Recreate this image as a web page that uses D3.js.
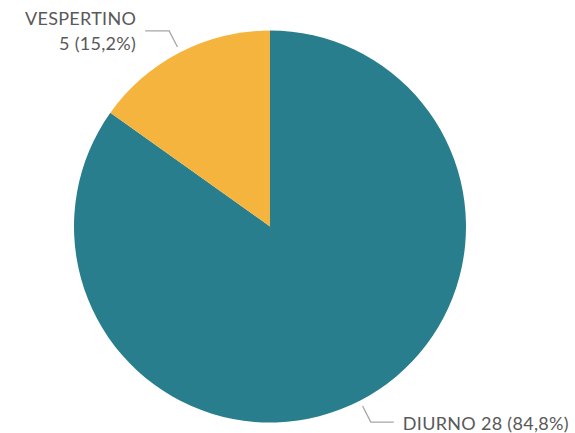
<!DOCTYPE html>
<html>
<head>
<meta charset="utf-8">
<script src="https://cdn.jsdelivr.net/npm/d3@7"></script>
<style>
  body { margin: 0; background: #fff; }
  text { font-family: Lato, "Open Sans", sans-serif; fill: #595959; letter-spacing: 0.3px; }
</style>
</head>
<body>
<script>
// Data
const categories = ['DIURNO', 'VESPERTINO'];
const values = [28, 5];
const percentLabels = ['84,8%', '15,2%'];
const colors = ['#297E8E', '#F4B43D'];

const width = 575;
const height = 433;
const cx = 270;
const cy = 226.5;
const radius = 196;

const svg = d3.select('body')
  .append('svg')
  .attr('width', width)
  .attr('height', height);

const pie = d3.pie().sort(null).value((d) => d.value);
const arcs = pie(categories.map((c, i) => ({ name: c, value: values[i], pct: percentLabels[i], color: colors[i] })));

const arc = d3.arc().innerRadius(0).outerRadius(radius);

const g = svg.append('g').attr('transform', `translate(${cx},${cy})`);

g.selectAll('path')
  .data(arcs)
  .join('path')
  .attr('d', arc)
  .attr('fill', (d) => d.data.color);

// Leader lines and labels
const pointAt = (a, r) => [Math.sin(a) * r, -Math.cos(a) * r];

arcs.forEach((d) => {
  const mid = (d.startAngle + d.endAngle) / 2;
  const p1 = pointAt(mid, 202);
  const p2 = pointAt(mid, 220);
  const right = p2[0] > 0;
  const p3 = [p2[0] + (right ? 23 : -24), p2[1]];

  g.append('polyline')
    .attr('points', [p1, p2, p3].map((p) => p.join(',')).join(' '))
    .attr('fill', 'none')
    .attr('stroke', '#A6A6A6')
    .attr('stroke-width', 1.3);

  if (right) {
    g.append('text')
      .attr('x', p3[0] + 9)
      .attr('y', p3[1] + 8)
      .attr('font-size', '18px')
      .text(`${d.data.name} ${d.data.value} (${d.data.pct})`);
  } else {
    const t = g.append('text')
      .attr('text-anchor', 'end')
      .attr('font-size', '18px');
    t.append('tspan')
      .attr('x', p3[0] - 9)
      .attr('y', p3[1] - 6)
      .text(d.data.name);
    t.append('tspan')
      .attr('x', p3[0] - 9)
      .attr('y', p3[1] + 19)
      .text(`${d.data.value} (${d.data.pct})`);
  }
});
</script>
</body>
</html>
